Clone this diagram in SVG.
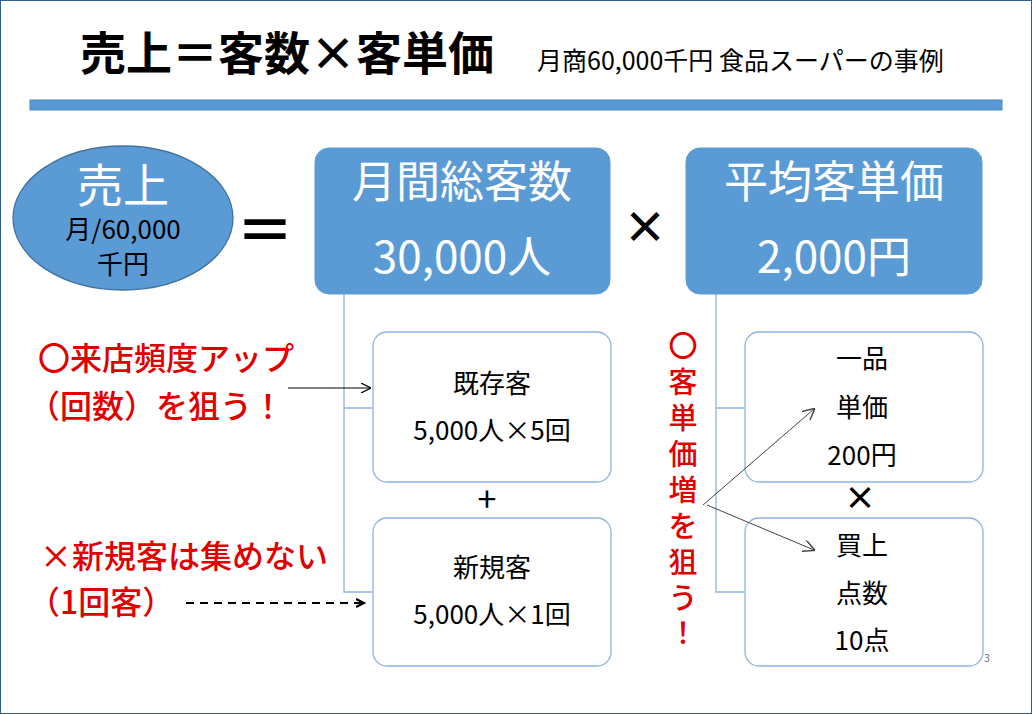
<svg xmlns="http://www.w3.org/2000/svg" width="1032" height="714" viewBox="0 0 1032 714">
<defs>
<style>
text{font-family:"Noto Sans CJK JP","Noto Sans",sans-serif}
.big{fill:#5B9BD5;stroke:#5B9BD5}
.sub{fill:#fff;stroke:#8DB3E2;stroke-width:1.3}
.wt{fill:#fff;font-size:44px;text-anchor:middle}
.bk{fill:#000;font-size:26px;text-anchor:middle}
.rd{fill:#E00000;font-size:32px;font-weight:500}
.vr{fill:#E00000;font-size:29px;font-weight:500;text-anchor:middle}
.ln{stroke:#8DB3E2;stroke-width:1.3;fill:none}
</style>
<marker id="a" viewBox="0 0 10 10" refX="9" refY="5" markerWidth="10" markerHeight="10" markerUnits="userSpaceOnUse" orient="auto"><path d="M0,0 L10,5 L0,10" fill="none" stroke="#000" stroke-width="1.2"/></marker>
<marker id="g" viewBox="0 0 10 10" refX="9" refY="5" markerWidth="12" markerHeight="12" markerUnits="userSpaceOnUse" orient="auto"><path d="M0,0 L10,5 L0,10" fill="none" stroke="#444" stroke-width="1.2"/></marker>
<marker id="d" viewBox="0 0 10 10" refX="8" refY="5" markerWidth="10" markerHeight="12" markerUnits="userSpaceOnUse" orient="auto"><path d="M0,1 L8,5 L0,9" fill="none" stroke="#000" stroke-width="2.2"/></marker>
</defs>
<rect x="0.5" y="0.5" width="1031" height="713" fill="#fff" stroke="#2E5F8F"/>
<text x="80" y="70" font-size="46" font-weight="bold" fill="#000">売上＝客数×客単価</text>
<text x="537" y="70" font-size="25" fill="#000">月商60,000千円  食品スーパーの事例</text>
<rect x="30" y="100" width="972" height="10" fill="#5B9BD5" stroke="#4A86C0"/>
<g id="tree">
<path class="ln" d="M344,294 V592 H373 M344,408 H373 M716,294 V592 H745 M716,408 H745"/>
</g>
<g id="sales">
<ellipse cx="123" cy="218" rx="110" ry="72" fill="#5B9BD5" stroke="#41719C" stroke-width="1.3"/>
<text x="123" y="202" class="wt" style="font-size:46px">売上</text>
<text x="123" y="239" class="bk">月/60,000</text>
<text x="123" y="274" class="bk">千円</text>
</g>
<text x="265" y="252" font-size="58" font-weight="bold" text-anchor="middle">＝</text>
<g id="customers">
<rect class="big" x="315" y="148" width="295" height="146" rx="14"/>
<text x="462" y="198" class="wt">月間総客数</text>
<text x="462" y="273" class="wt">30,000人</text>
</g>
<text x="645" y="243" font-size="44" font-weight="bold" text-anchor="middle">×</text>
<g id="price">
<rect class="big" x="686" y="148" width="296" height="146" rx="14"/>
<text x="834" y="198" class="wt">平均客単価</text>
<text x="834" y="273" class="wt">2,000円</text>
</g>
<g id="existing">
<rect class="sub" x="373" y="332" width="238" height="150" rx="14"/>
<text x="492" y="393" class="bk">既存客</text>
<text x="492" y="440" class="bk">5,000人×5回</text>
</g>
<text x="487" y="512" class="bk" style="font-size:34px">+</text>
<g id="new">
<rect class="sub" x="373" y="518" width="238" height="148" rx="14"/>
<text x="492" y="577" class="bk">新規客</text>
<text x="492" y="624" class="bk">5,000人×1回</text>
</g>
<g id="unitprice">
<rect class="sub" x="745" y="332" width="238" height="150" rx="14"/>
<text x="862" y="368" class="bk">一品</text>
<text x="862" y="417" class="bk">単価</text>
<text x="862" y="465" class="bk">200円</text>
</g>
<text x="860" y="510" font-size="32" font-weight="bold" text-anchor="middle">×</text>
<g id="items">
<rect class="sub" x="745" y="518" width="238" height="148" rx="14"/>
<text x="862" y="555" class="bk">買上</text>
<text x="862" y="603" class="bk">点数</text>
<text x="862" y="650" class="bk">10点</text>
</g>
<text x="987" y="662" font-size="10" fill="#666" text-anchor="middle">3</text>
<text x="38" y="370" class="rd">〇来店頻度アップ</text>
<text x="28" y="418" class="rd">（回数）を狙う！</text>
<text x="40" y="568" class="rd">×新規客は集めない</text>
<text x="28" y="614" class="rd">（1回客）</text>
<g id="vertical">
<text x="683" y="357" class="vr">〇</text>
<text x="683" y="393" class="vr">客</text>
<text x="683" y="429" class="vr">単</text>
<text x="683" y="465" class="vr">価</text>
<text x="683" y="501" class="vr">増</text>
<text x="683" y="537" class="vr">を</text>
<text x="683" y="573" class="vr">狙</text>
<text x="683" y="609" class="vr">う</text>
<text x="683" y="644" class="vr">！</text>
</g>
<g id="connectors">
<line x1="288" y1="388" x2="370" y2="388" stroke="#000" stroke-width="1" marker-end="url(#a)"/>
<line x1="186" y1="603" x2="364" y2="603" stroke="#000" stroke-width="2.2" stroke-dasharray="8,6" marker-end="url(#d)"/>
<line x1="703" y1="505" x2="814" y2="409" stroke="#444" stroke-width="1" marker-end="url(#g)"/>
<line x1="707" y1="505" x2="814" y2="550" stroke="#444" stroke-width="1" marker-end="url(#g)"/>
</g>
</svg>
